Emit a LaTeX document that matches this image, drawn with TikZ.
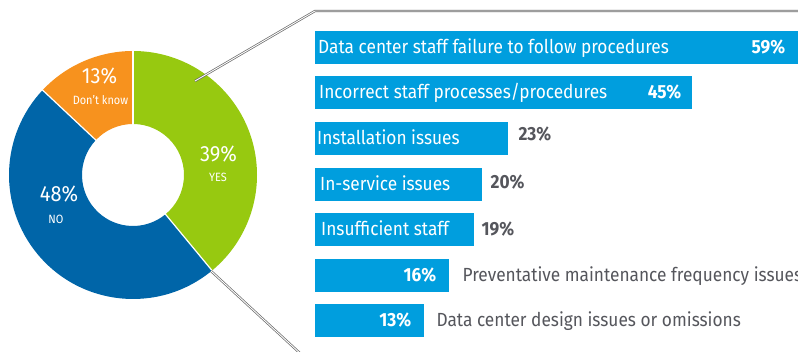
\documentclass[tikz,border=0pt]{standalone}
\usepackage{fontspec}
\setmainfont{Fira Sans}[FakeStretch=0.91]
\usetikzlibrary{positioning,calc}

\definecolor{yesgreen}{RGB}{151,201,16}
\definecolor{noblue}{RGB}{0,101,168}
\definecolor{dkorange}{RGB}{247,146,30}
\definecolor{barblue}{RGB}{0,158,222}
\definecolor{pctgrey}{RGB}{85,86,92}
\definecolor{zoomgrey}{RGB}{105,105,105}

\begin{document}
\begin{tikzpicture} [x=1pt, y=-1pt,
				slice/.style={
				% The border:
				draw=white, line width=1.2pt
				},
				bar/.style={
				% The shape:
				rectangle, anchor=north west, inner sep=0pt,
				% The size:
				minimum height=32.7pt,
				% The filling:
				fill=barblue
				},
				cause/.style={
				inner sep=0pt, text=white,
				font=\fontsize{19}{19}\selectfont
				},
				pctin/.style={
				inner sep=0pt, text=white,
				font=\fontsize{19}{19}\selectfont\bfseries
				},
				pctout/.style={
				inner sep=0pt, text=pctgrey,
				font=\fontsize{19}{19}\selectfont\bfseries
				},
				descr/.style={
				inner sep=0pt, text=pctgrey,
				font=\fontsize{19}{19}\selectfont
				},
				big/.style={
				inner sep=0pt, text=white, anchor=base,
				font=\fontsize{22}{22}\selectfont
				},
				small/.style={
				inner sep=0pt, text=white, anchor=base,
				font=\fontsize{12}{12}\selectfont
				},
				zoomline/.style={
				draw=zoomgrey, line width=0.7pt,
				double=white, double distance=0.9pt
				}
				]
    \useasboundingbox (0,0) rectangle (798,352);
    \clip (0,0) rectangle (798,352);

    % the donut
    \coordinate (c) at (133,175);
    \begin{scope}[shift={(c)}]
    \fill[yesgreen] (90:124pt) arc[start angle=90, end angle=-50.4, radius=124pt]
        -- (-50.4:51pt) arc[start angle=-50.4, end angle=90, radius=51pt] -- cycle;
    \fill[noblue] (-50.4:124pt) arc[start angle=-50.4, end angle=-223.2, radius=124pt]
        -- (-223.2:51pt) arc[start angle=-223.2, end angle=-50.4, radius=51pt] -- cycle;
    \fill[dkorange] (136.8:124pt) arc[start angle=136.8, end angle=90, radius=124pt]
        -- (90:51pt) arc[start angle=90, end angle=136.8, radius=51pt] -- cycle;
    \draw[slice] (90:50pt) -- (90:125pt);
    \draw[slice] (-50.4:50pt) -- (-50.4:125pt);
    \draw[slice] (136.8:50pt) -- (136.8:125pt);
    \end{scope}

    \node[big] (yes) at (218.5,161.7) {39\%};
    \node[small] (yeslbl) at (218,181.7) {YES};
    \node[big] (no) at (59,201.7) {48\%};
    \node[small] (nolbl) at (56,223.3) {NO};
    \node[big] (dk) at (99.5,84) {13\%};
    \node[small] (dklbl) at (100.5,104.3) {Don’t know};

    % the zoom lines
    \coordinate (z1) at (195,81);
    \coordinate (z2) at (315,11);
    \coordinate (z3) at (810,11);
    \coordinate (z4) at (211,271);
    \coordinate (z5) at (316,368);
    \coordinate (z6) at (810,368);
    \draw[zoomline] (z1) -- (z2) -- (z3);
    \draw[zoomline] (z4) -- (z5) -- (z6);

    % the bars
    \node[bar, minimum width=494pt] (b1) at (315,31) {};
    \node[bar, minimum width=377pt] (b2) at (315,76) {};
    \node[bar, minimum width=193pt] (b3) at (315,122) {};
    \node[bar, minimum width=167pt] (b4) at (315,168) {};
    \node[bar, minimum width=159pt] (b5) at (315,213) {};
    \node[bar, minimum width=134pt] (b6) at (315,259) {};
    \node[bar, minimum width=109pt] (b7) at (315,304) {};

    \node[cause, right=3pt of b1.west, anchor=base west, yshift=-6.4pt] (t1) {Data center staff failure to follow procedures};
    \node[pctin, left=24pt of b1.east, anchor=base east, yshift=-6.4pt] (p1) {59\%};
    \node[cause, right=4pt of b2.west, anchor=base west, yshift=-6.4pt] (t2) {Incorrect staff processes/procedures};
    \node[pctin, left=11pt of b2.east, anchor=base east, yshift=-6.4pt] (p2) {45\%};
    \node[cause, right=2pt of b3.west, anchor=base west, yshift=-6.4pt] (t3) {Installation issues};
    \node[pctout, right=10pt of b3.east, anchor=base west, yshift=-2pt] (p3) {23\%};
    \node[cause, right=5pt of b4.west, anchor=base west, yshift=-6.4pt] (t4) {In-service issues};
    \node[pctout, right=8pt of b4.east, anchor=base west, yshift=-4pt] (p4) {20\%};
    \node[cause, right=6pt of b5.west, anchor=base west, yshift=-6.4pt] (t5) {Insufficient staff};
    \node[pctout, right=7pt of b5.east, anchor=base west, yshift=-5.7pt] (p5) {19\%};
    \node[pctin, left=13pt of b6.east, anchor=base east, yshift=-6.4pt] (p6) {16\%};
    \node[descr, right=13pt of b6.east, anchor=base west, yshift=-6.4pt] (t6) {Preventative maintenance frequency issues};
    \node[pctin, left=13pt of b7.east, anchor=base east, yshift=-6.4pt] (p7) {13\%};
    \node[descr, right=12pt of b7.east, anchor=base west, yshift=-6.4pt] (t7) {Data center design issues or omissions};
\end{tikzpicture}
\end{document}
